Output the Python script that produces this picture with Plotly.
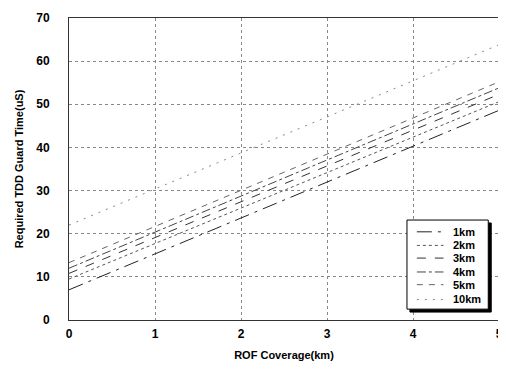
import plotly.graph_objects as go

coverage_km = [0, 5]
series_names = ["1km", "2km", "3km", "4km", "5km", "10km"]
guard_1km = [7.0, 48.6]
guard_2km = [9.5, 50.6]
guard_3km = [10.8, 52.3]
guard_4km = [12.0, 53.8]
guard_5km = [13.3, 55.2]
guard_10km = [22.0, 63.8]
x_ticks = [0, 1, 2, 3, 4, 5]
y_ticks = [0, 10, 20, 30, 40, 50, 60, 70]

series = [guard_1km, guard_2km, guard_3km, guard_4km, guard_5km, guard_10km]
styles = [
    dict(color="#222222", dash="longdashdot", width=1),
    dict(color="#555555", dash="dot", width=1),
    dict(color="#333333", dash="dash", width=1),
    dict(color="#444444", dash="dashdot", width=1),
    dict(color="#666666", dash="6px,6px", width=1),
    dict(color="#888888", dash="2px,6px", width=1),
]

fig = go.Figure()
for name, ys, st in zip(series_names, series, styles):
    fig.add_trace(go.Scatter(x=coverage_km, y=ys, mode="lines", name=name, line=st))

font_family = "Liberation Sans, Arial, sans-serif"

# manual legend (paper coordinates)
lx0, lx1, ly0, ly1 = 0.786, 0.975, 0.036, 0.331
sx, sy = 3 / 434, 3 / 308
shapes = [
    dict(type="rect", xref="paper", yref="paper", x0=lx0 + sx, x1=lx1 + sx, y0=ly0 - sy, y1=ly1 - sy,
         fillcolor="black", line=dict(color="black", width=1), layer="above"),
    dict(type="rect", xref="paper", yref="paper", x0=lx0, x1=lx1, y0=ly0, y1=ly1,
         fillcolor="white", line=dict(color="black", width=1), layer="above"),
]
entry_y = [0.292, 0.247, 0.205, 0.159, 0.117, 0.068]
annotations = []
for name, st, yy in zip(series_names, styles, entry_y):
    shapes.append(dict(type="line", xref="paper", yref="paper", x0=0.809, x1=0.871, y0=yy, y1=yy,
                       line=st, layer="above"))
    annotations.append(dict(xref="paper", yref="paper", x=0.889, y=yy, text=name, showarrow=False,
                            xanchor="left", yanchor="middle",
                            font=dict(family=font_family, size=11, weight="bold", color="black")))

fig.update_layout(
    width=498, height=361,
    margin=dict(l=61, r=3, t=4, b=49),
    paper_bgcolor="white", plot_bgcolor="white",
    font=dict(family=font_family, size=12, color="black"),
    showlegend=False,
    shapes=shapes, annotations=annotations,
)
fig.update_xaxes(
    range=[0, 5], tickvals=x_ticks, ticktext=[str(v) for v in x_ticks],
    showgrid=True, gridcolor="#888888", griddash="dot", gridwidth=1,
    showline=True, linecolor="#333333", linewidth=1, mirror=True,
    zeroline=False, ticks="", ticklabelstandoff=3, ticklabeloverflow="allow",
    tickfont=dict(family=font_family, size=12, weight="bold"),
    title=dict(text="ROF Coverage(km)", font=dict(family=font_family, size=11, weight="bold"), standoff=10),
)
fig.update_yaxes(
    range=[0, 70], tickvals=y_ticks, ticktext=[str(v) for v in y_ticks],
    showgrid=True, gridcolor="#888888", griddash="dot", gridwidth=1,
    showline=True, linecolor="#333333", linewidth=1, mirror=True,
    zeroline=False, ticks="", ticklabelstandoff=16, ticklabeloverflow="allow",
    tickfont=dict(family=font_family, size=12, weight="bold"),
    title=dict(text="Required TDD Guard Time(uS)", font=dict(family=font_family, size=11, weight="bold"), standoff=10),
)
fig.write_html("out.html")
